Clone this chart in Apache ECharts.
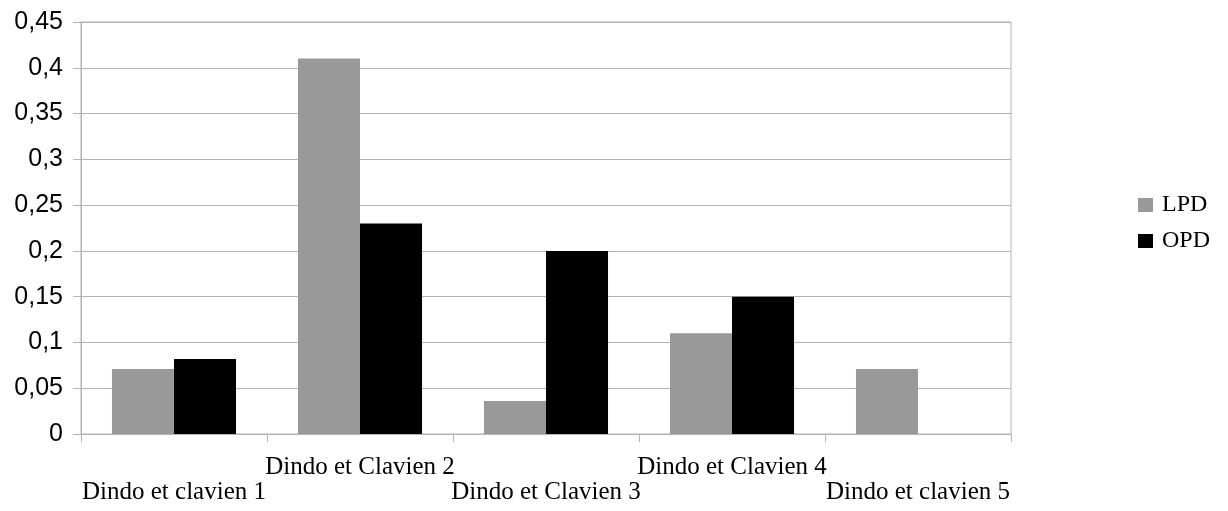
<!DOCTYPE html>
<html><head><meta charset="utf-8">
<script src="https://cdn.jsdelivr.net/npm/echarts@6/dist/echarts.min.js"></script>
<style>html,body{margin:0;padding:0;background:#fff}#c{width:1228px;height:511px}</style>
</head><body><div id="c"></div>
<script>
const categories = ['Dindo et clavien 1','Dindo et Clavien 2','Dindo et Clavien 3','Dindo et Clavien 4','Dindo et clavien 5'];
const lpd = [0.071, 0.41, 0.036, 0.11, 0.071];
const opd = [0.082, 0.23, 0.2, 0.15, null];
const seriesNames = ['LPD','OPD'];
const yMin = 0, yMax = 0.45, yStep = 0.05;

const chart = echarts.init(document.getElementById('c'));
const gridColor = '#b3b3b3';
chart.setOption({
  animation: false,
  grid: {left: 81, right: 217, top: 22, bottom: 77, show: true, borderColor: gridColor, borderWidth: 1, backgroundColor: 'transparent'},
  legend: {
    orient: 'vertical', left: 1138, top: 193, itemGap: 12, padding: 0,
    itemWidth: 15, itemHeight: 14, icon: 'rect',
    textStyle: {fontFamily: 'Liberation Serif', fontSize: 24, color: '#000', padding: [0,0,0,4], lineHeight: 24},
    data: seriesNames
  },
  xAxis: {
    type: 'category', data: categories,
    axisLine: {lineStyle: {color: gridColor}},
    axisTick: {show: true, length: 8, lineStyle: {color: gridColor}},
    splitLine: {show: false},
    axisLabel: {
      interval: 0, margin: 21, color: '#000', fontFamily: 'Liberation Serif', fontSize: 25, lineHeight: 25,
      formatter: (v, i) => (i % 2 === 0 ? '\n' + v : v)
    }
  },
  yAxis: {
    type: 'value', min: yMin, max: yMax, interval: yStep,
    axisLine: {show: true, lineStyle: {color: gridColor}},
    axisTick: {show: true, length: 8, lineStyle: {color: gridColor}},
    splitLine: {lineStyle: {color: gridColor}},
    axisLabel: {
      margin: 18, color: '#000', fontFamily: 'Liberation Sans', fontSize: 25,
      formatter: v => String(Math.round(v * 100) / 100).replace('.', ',')
    }
  },
  series: [
    {name: seriesNames[0], type: 'bar', data: lpd, itemStyle: {color: '#999999'}, barGap: '0%', barCategoryGap: '33.3%'},
    {name: seriesNames[1], type: 'bar', data: opd, itemStyle: {color: '#000000'}, barGap: '0%', barCategoryGap: '33.3%'}
  ]
});
</script></body></html>
